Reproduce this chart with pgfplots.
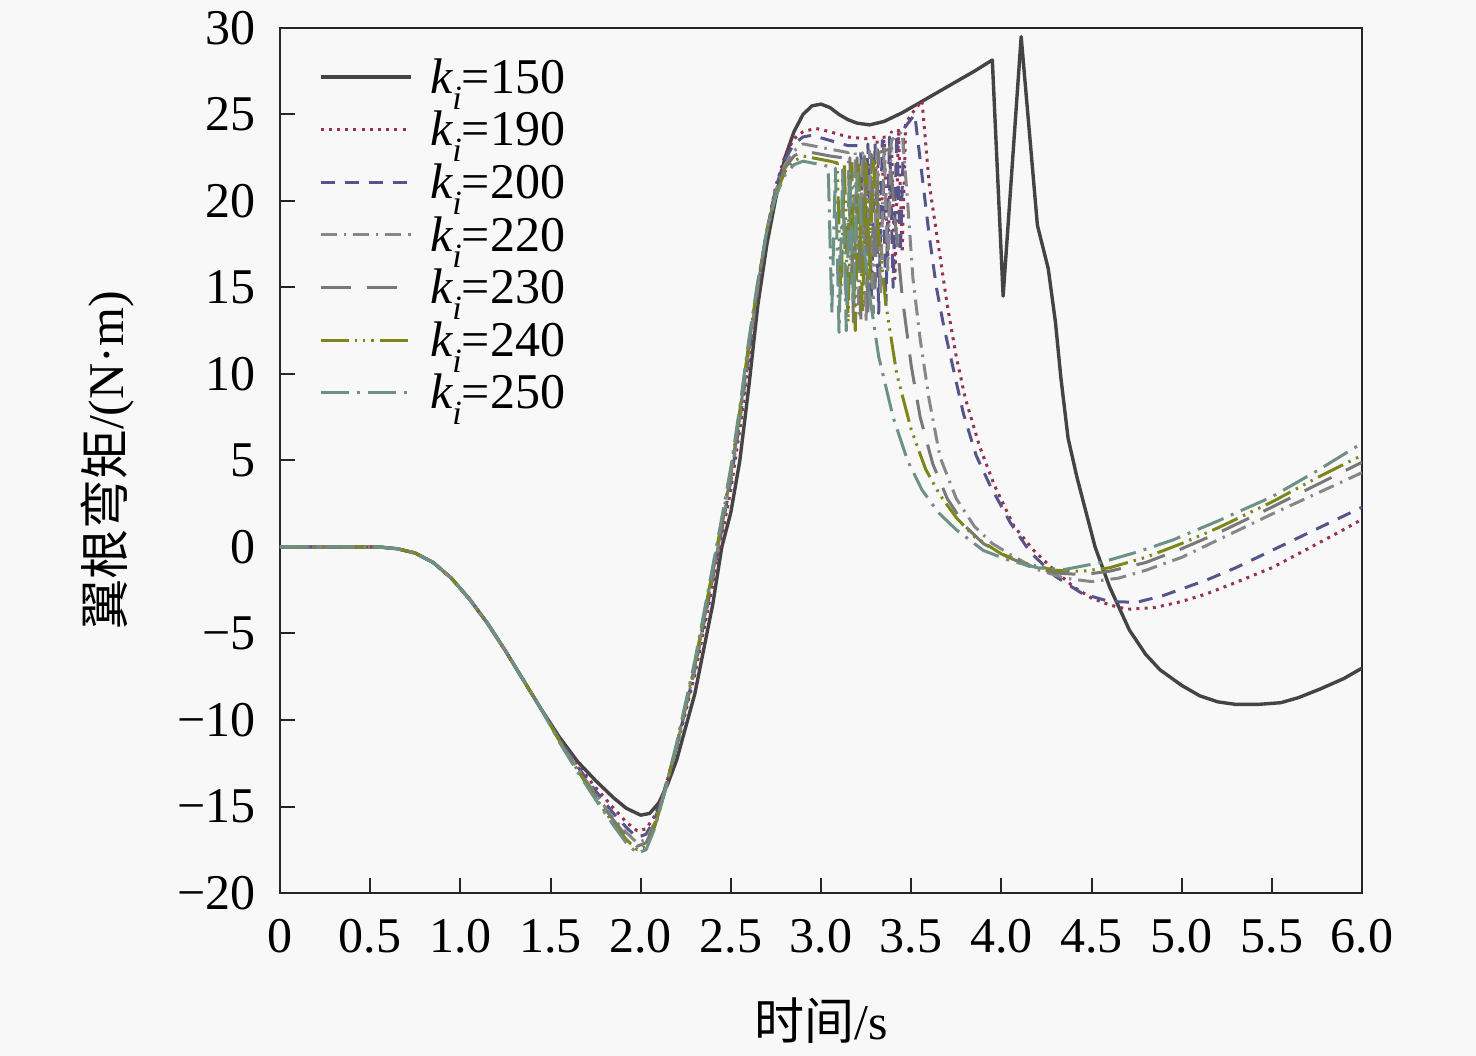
\documentclass[border=0pt]{standalone}
\usepackage{fontspec}
\setmainfont{Liberation Serif}
\newfontfamily\cjk{Noto Sans CJK SC}
\usepackage{pgfplots}
\pgfplotsset{compat=1.18}
\usetikzlibrary{backgrounds}
\definecolor{bgc}{RGB}{248,248,248}
\definecolor{c150}{RGB}{68,68,68}
\definecolor{c190}{RGB}{150,50,80}
\definecolor{c200}{RGB}{85,85,140}
\definecolor{c220}{RGB}{135,135,135}
\definecolor{c230}{RGB}{120,120,120}
\definecolor{c240}{RGB}{125,135,25}
\definecolor{c250}{RGB}{110,145,135}
\newcommand{\ki}[1]{{\itshape k}\raisebox{-0.32em}{\fontsize{17bp}{20bp}\selectfont\itshape i}=#1}
\begin{document}
\fontsize{25bp}{30bp}\selectfont
\begin{tikzpicture}
\begin{axis}[
  scale only axis, width=541bp, height=432.5bp,
  xmin=0, xmax=6, ymin=-20, ymax=30,
  axis line style={line width=1.2bp, color=black!85},
  xtick={0,0.5,1,1.5,2,2.5,3,3.5,4,4.5,5,5.5,6},
  xticklabels={0,0.5,1.0,1.5,2.0,2.5,3.0,3.5,4.0,4.5,5.0,5.5,6.0},
  ytick={-20,-15,-10,-5,0,5,10,15,20,25,30},
  yticklabels={−20,−15,−10,−5,0,5,10,15,20,25,30},
  xtick pos=bottom, ytick pos=left,
  tick align=inside, major tick length=7.5bp,
  tick style={line width=1bp, color=black!85},
  xticklabel style={font=\fontsize{25bp}{30bp}\selectfont, inner sep=0pt, yshift=-13bp},
  yticklabel style={font=\fontsize{25bp}{30bp}\selectfont, inner sep=0pt, xshift=-12bp},
  xlabel={{\cjk 时间}/s},
  ylabel={{\cjk 翼根弯矩}/(N·m)},
  xlabel style={font=\fontsize{25bp}{30bp}\selectfont, at={(axis description cs:0.5,0)}, anchor=north, inner sep=0pt, yshift=-52bp},
  ylabel style={font=\fontsize{25bp}{30bp}\selectfont, at={(axis description cs:0,0.5)}, anchor=center, inner sep=0pt, yshift=86bp},
  legend cell align=left,
  legend image code/.code={\draw[#1] (0bp,0.15em) -- (45bp,0.15em);},
  legend style={draw=none, fill=none, at={(0.03,0.97)}, anchor=north west,
    font=\fontsize{25bp}{30bp}\selectfont, column sep=9bp,
    nodes={inner sep=0pt, text height=17.5bp, text depth=8.8bp}},
  every axis plot/.append style={line width=1.5bp, line join=round},
]
% ki=150
\addplot[c150, solid, line width=1.7bp] coordinates {
(0,0) (0.2,0) (0.4,0) (0.55,0) (0.65,-0.1) (0.75,-0.35) (0.85,-0.9) (0.95,-1.8) (1.05,-3.0) (1.15,-4.4) (1.25,-6.0) (1.35,-7.7) (1.45,-9.4)
(1.55,-11.0) (1.65,-12.4) (1.75,-13.5) (1.85,-14.5) (1.92,-15.1) (2.0,-15.5) (2.05,-15.4) (2.1,-14.8) (2.15,-13.7) (2.2,-12.3) (2.3,-8.5) (2.4,-3.3) (2.45,0) (2.5,2.0) (2.55,5.0) (2.6,9.3) (2.65,14.0) (2.7,17.5) (2.75,20.2) (2.8,22.5) (2.85,24.0) (2.9,25.0) (2.95,25.5) (3.0,25.6) (3.05,25.4) (3.1,25.0) (3.15,24.7) (3.2,24.5) (3.27,24.4) (3.35,24.6) (3.45,25.1) (3.55,25.7) (3.65,26.3) (3.75,26.9) (3.85,27.5) (3.95,28.15) (4.01,14.5) (4.11,29.5) (4.2,18.6) (4.26,16.1) (4.3,13.0) (4.33,9.8) (4.37,6.3) (4.42,4.0) (4.47,2.0) (4.52,0) (4.6,-2.3) (4.71,-4.8) (4.8,-6.2) (4.88,-7.1) (5.0,-8.0) (5.1,-8.6) (5.2,-8.95) (5.3,-9.1) (5.42,-9.1) (5.55,-9.0) (5.65,-8.7) (5.77,-8.2) (5.9,-7.6) (6.0,-7.0)
};
\addlegendentry{\ki{150}}
% ki=190
\addplot[c190, dash pattern=on 1.5bp off 2.6bp] coordinates {
(0,0) (0.2,0) (0.4,0) (0.55,0) (0.65,-0.1) (0.75,-0.35) (0.85,-0.9) (0.95,-1.8) (1.05,-3.0) (1.15,-4.4) (1.25,-6.0) (1.35,-7.7) (1.45,-9.4)
(1.55,-11.1) (1.65,-12.6) (1.75,-13.9) (1.85,-15.1) (1.92,-15.9) (1.98,-16.4) (2.03,-16.3) (2.08,-15.5) (2.13,-14.1) (2.2,-11.6) (2.3,-7.4) (2.4,-2.2) (2.45,0.6) (2.5,3.3) (2.55,6.8) (2.6,10.8) (2.65,14.8) (2.7,18.3) (2.75,20.9) (2.8,22.6) (2.85,23.6) (2.9,24.0) (2.97,24.2) (3.05,24.0) (3.15,23.7) (3.25,23.6) (3.31,23.7) (3.33,17.5) (3.35,23.8) (3.37,16.5) (3.39,24.0) (3.41,15.5) (3.43,24.2) (3.45,17.0) (3.47,24.5) (3.5,25.0) (3.53,25.4) (3.56,25.8) (3.6,21.0) (3.65,17.5) (3.7,14.0) (3.75,11.0) (3.8,8.6) (3.88,5.8) (3.96,3.6) (4.07,1.2) (4.18,-0.2) (4.29,-1.3) (4.4,-2.3) (4.5,-2.95) (4.6,-3.35) (4.7,-3.6) (4.85,-3.5) (5.0,-3.15) (5.14,-2.7) (5.3,-2.05) (5.5,-1.2) (5.7,-0.1) (5.88,0.9) (6.0,1.6)
};
\addlegendentry{\ki{190}}
% ki=200
\addplot[c200, dash pattern=on 7bp off 5bp] coordinates {
(0,0) (0.2,0) (0.4,0) (0.55,0) (0.65,-0.1) (0.75,-0.35) (0.85,-0.9) (0.95,-1.8) (1.05,-3.0) (1.15,-4.4) (1.25,-6.0) (1.35,-7.7) (1.45,-9.4)
(1.55,-11.1) (1.65,-12.7) (1.75,-14.1) (1.85,-15.4) (1.92,-16.2) (1.98,-16.8) (2.03,-16.6) (2.08,-15.7) (2.13,-14.1) (2.2,-11.5) (2.3,-7.1) (2.4,-1.8) (2.45,1.0) (2.5,3.8) (2.55,7.3) (2.6,11.2) (2.65,15.0) (2.7,18.3) (2.75,20.8) (2.8,22.4) (2.85,23.3) (2.9,23.7) (2.95,23.8) (3.05,23.5) (3.15,23.2) (3.22,23.2) (3.24,16) (3.26,23.3) (3.28,14.5) (3.30,23.4) (3.32,13.5) (3.34,23.5) (3.36,14) (3.38,23.7) (3.40,15) (3.42,23.9) (3.44,17) (3.46,24.2) (3.49,24.6) (3.52,25.0) (3.56,21.5) (3.6,18) (3.64,15.0) (3.68,12.8) (3.74,10.0) (3.79,7.7) (3.86,5.3) (3.94,3.5) (4.05,1.4) (4.16,-0.3) (4.3,-1.7) (4.45,-2.7) (4.6,-3.15) (4.75,-3.2) (4.9,-2.8) (5.14,-1.9) (5.3,-1.2) (5.5,-0.2) (5.7,0.8) (5.88,1.7) (6.0,2.3)
};
\addlegendentry{\ki{200}}
% ki=220
\addplot[c220, dash pattern=on 8bp off 3.5bp on 1.2bp off 3.5bp] coordinates {
(0,0) (0.2,0) (0.4,0) (0.55,0) (0.65,-0.1) (0.75,-0.35) (0.85,-0.9) (0.95,-1.8) (1.05,-3.0) (1.15,-4.4) (1.25,-6.0) (1.35,-7.7) (1.45,-9.4)
(1.55,-11.2) (1.65,-12.8) (1.75,-14.3) (1.85,-15.7) (1.92,-16.5) (1.98,-17.1) (2.03,-16.9) (2.08,-15.9) (2.13,-14.2) (2.2,-11.5) (2.3,-7.0) (2.4,-1.6) (2.45,1.2) (2.5,4.0) (2.55,7.5) (2.6,11.4) (2.65,15.1) (2.7,18.3) (2.75,20.6) (2.8,22.1) (2.85,22.9) (2.9,23.3) (2.95,23.2) (3.05,23.0) (3.15,22.8) (3.17,15) (3.19,22.8) (3.21,13.5) (3.23,22.8) (3.25,13) (3.27,22.9) (3.29,13.5) (3.31,23.0) (3.33,14.5) (3.35,23.2) (3.37,16) (3.39,23.5) (3.42,23.8) (3.45,24.0) (3.48,20) (3.51,15.5) (3.55,12) (3.6,8.5) (3.66,5.2) (3.75,2.8) (3.85,1.2) (3.95,0.2) (4.06,-0.5) (4.2,-1.3) (4.35,-1.8) (4.5,-2.0) (4.65,-1.8) (4.8,-1.35) (5.0,-0.6) (5.2,0.4) (5.5,1.9) (5.75,3.1) (6.0,4.3)
};
\addlegendentry{\ki{220}}
% ki=230
\addplot[c230, dash pattern=on 15bp off 8bp] coordinates {
(0,0) (0.2,0) (0.4,0) (0.55,0) (0.65,-0.1) (0.75,-0.35) (0.85,-0.9) (0.95,-1.8) (1.05,-3.0) (1.15,-4.4) (1.25,-6.0) (1.35,-7.7) (1.45,-9.4)
(1.55,-11.2) (1.65,-12.9) (1.75,-14.4) (1.85,-15.8) (1.92,-16.7) (1.98,-17.3) (2.03,-17.1) (2.08,-16.0) (2.13,-14.3) (2.2,-11.5) (2.3,-6.9) (2.4,-1.5) (2.45,1.3) (2.5,4.2) (2.55,7.7) (2.6,11.6) (2.65,15.2) (2.7,18.3) (2.75,20.5) (2.8,21.9) (2.85,22.6) (2.9,22.9) (2.95,22.8) (3.05,22.6) (3.12,22.5) (3.14,14) (3.16,22.5) (3.18,13) (3.20,22.5) (3.22,12.8) (3.24,22.6) (3.26,13.5) (3.28,22.7) (3.30,15) (3.32,22.8) (3.35,22.9) (3.38,23.0) (3.41,19) (3.45,14.5) (3.5,10.5) (3.55,7.5) (3.62,4.8) (3.7,2.8) (3.8,1.2) (3.9,0.2) (4.02,-0.5) (4.15,-1.1) (4.3,-1.5) (4.45,-1.6) (4.6,-1.4) (4.8,-0.9) (5.0,-0.1) (5.2,0.8) (5.5,2.3) (5.75,3.6) (6.0,4.9)
};
\addlegendentry{\ki{230}}
% ki=240
\addplot[c240, dash pattern=on 14bp off 3bp on 1.2bp off 3bp on 1.2bp off 3bp on 1.2bp off 3bp] coordinates {
(0,0) (0.2,0) (0.4,0) (0.55,0) (0.65,-0.1) (0.75,-0.35) (0.85,-0.9) (0.95,-1.8) (1.05,-3.0) (1.15,-4.4) (1.25,-6.0) (1.35,-7.7) (1.45,-9.4)
(1.55,-11.2) (1.65,-12.9) (1.75,-14.5) (1.85,-16.0) (1.92,-16.9) (1.98,-17.5) (2.03,-17.3) (2.08,-16.1) (2.13,-14.3) (2.2,-11.4) (2.3,-6.8) (2.4,-1.3) (2.45,1.5) (2.5,4.4) (2.55,7.9) (2.6,11.8) (2.65,15.3) (2.7,18.3) (2.75,20.4) (2.8,21.7) (2.85,22.3) (2.9,22.6) (2.95,22.5) (3.05,22.3) (3.09,22.2) (3.11,14.5) (3.13,22.2) (3.15,13) (3.17,22.2) (3.19,12.5) (3.21,22.2) (3.23,13.5) (3.25,22.2) (3.27,15.5) (3.29,22.3) (3.32,18) (3.36,14) (3.42,10) (3.5,6.8) (3.58,4.5) (3.66,3.0) (3.75,1.7) (3.85,0.6) (4.0,-0.4) (4.15,-1.0) (4.3,-1.35) (4.45,-1.4) (4.6,-1.2) (4.8,-0.6) (5.0,0.2) (5.2,1.1) (5.5,2.6) (5.75,4.0) (6.0,5.3)
};
\addlegendentry{\ki{240}}
% ki=250
\addplot[c250, dash pattern=on 14bp off 4bp on 1.5bp off 4bp] coordinates {
(0,0) (0.2,0) (0.4,0) (0.55,0) (0.65,-0.1) (0.75,-0.35) (0.85,-0.9) (0.95,-1.8) (1.05,-3.0) (1.15,-4.4) (1.25,-6.0) (1.35,-7.7) (1.45,-9.4)
(1.55,-11.3) (1.65,-13.0) (1.75,-14.6) (1.85,-16.1) (1.92,-17.1) (1.98,-17.7) (2.03,-17.5) (2.08,-16.2) (2.13,-14.3) (2.2,-11.3) (2.3,-6.6) (2.4,-1.1) (2.45,1.7) (2.5,4.6) (2.55,8.1) (2.6,12.0) (2.65,15.4) (2.7,18.3) (2.75,20.3) (2.8,21.5) (2.85,22.1) (2.9,22.3) (2.95,22.2) (3.0,22.1) (3.04,22.0) (3.06,13.5) (3.08,21.9) (3.10,12.4) (3.12,21.8) (3.14,12.5) (3.16,21.7) (3.18,14) (3.20,21.6) (3.23,18) (3.27,14.5) (3.32,11) (3.4,7.5) (3.48,5.0) (3.56,3.3) (3.65,2.0) (3.75,1.0) (3.9,-0.2) (4.05,-0.8) (4.2,-1.2) (4.35,-1.3) (4.55,-0.9) (4.75,-0.3) (4.95,0.4) (5.2,1.5) (5.5,2.9) (5.75,4.4) (6.0,6.0)
};
\addlegendentry{\ki{250}}
\end{axis}
\pgfresetboundingbox
\path (current axis.south west) ++(-140bp,-81.5bp) coordinate (bbsw) rectangle ++(738bp,528bp) coordinate (bbne);
\begin{scope}[on background layer]
\fill[bgc] (bbsw) rectangle (bbne);
\end{scope}
\end{tikzpicture}
\end{document}
